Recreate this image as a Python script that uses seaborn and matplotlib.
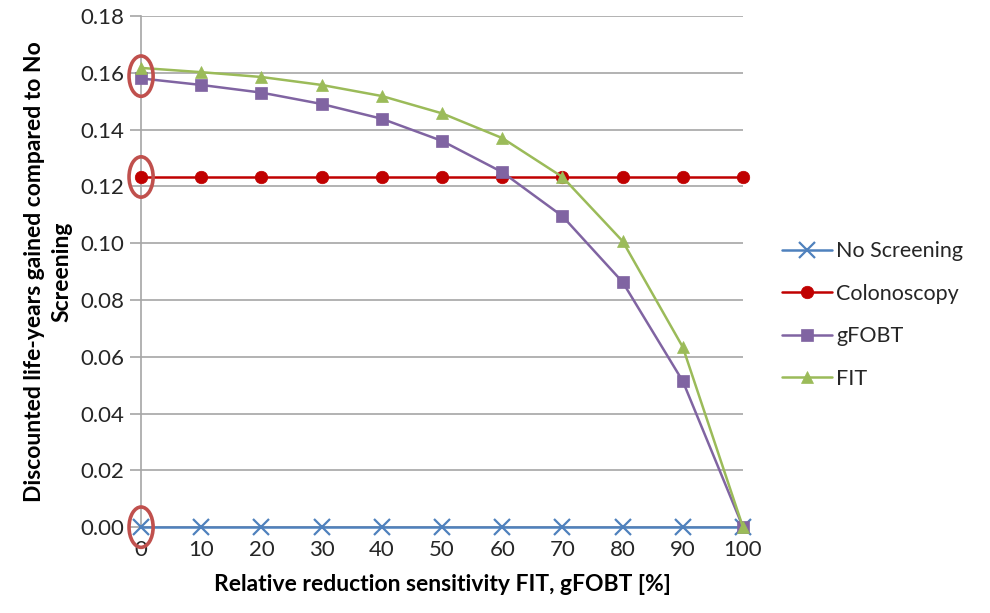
import matplotlib
matplotlib.use("Agg")
import matplotlib.pyplot as plt
from matplotlib.patches import Ellipse
import seaborn as sns
import pandas as pd

# Relative reduction in sensitivity (%)
reduction = [0, 10, 20, 30, 40, 50, 60, 70, 80, 90, 100]

# Discounted life-years gained vs. no screening
no_screening = [0.0] * 11
colonoscopy = [0.1233] * 11
gfobt = [0.158, 0.1557, 0.153, 0.149, 0.1438, 0.136, 0.125, 0.1095, 0.0863, 0.0514, 0.0]
fit = [0.1617, 0.1602, 0.1585, 0.1557, 0.1518, 0.1457, 0.137, 0.1233, 0.1007, 0.0634, 0.0]

series_names = ["No Screening", "Colonoscopy", "gFOBT", "FIT"]
series_values = [no_screening, colonoscopy, gfobt, fit]
colors = ["#4F81BD", "#C00000", "#8064A2", "#9BBB59"]
markers = ["x", "o", "s", "^"]
marker_sizes = [11, 9, 8, 9]

rows = []
for name, vals in zip(series_names, series_values):
    for x, v in zip(reduction, vals):
        rows.append({"reduction": x, "value": v, "series": name})
df = pd.DataFrame(rows)

sns.set_theme(style="white")
plt.rcParams["font.family"] = ["Lato", "DejaVu Sans"]

fig = plt.figure(figsize=(9.9, 6.13), dpi=100)
ax = fig.add_axes([0.1425, 0.14, 0.608, 0.834])

for name, col, mk, ms in zip(series_names, colors, markers, marker_sizes):
    sub = df[df["series"] == name]
    sns.lineplot(data=sub, x="reduction", y="value", ax=ax, color=col,
                 marker=mk, markersize=ms, linewidth=1.8, label=name,
                 markeredgecolor=col, markeredgewidth=1.6 if mk == "x" else 0.5,
                 clip_on=False, zorder=3)

ax.set_xlim(0, 100)
ax.set_ylim(0, 0.18)
ax.set_xticks(reduction)
ax.set_yticks([i * 0.02 for i in range(10)])
ax.set_yticklabels([f"{i * 0.02:.2f}" for i in range(10)])
ax.grid(axis="y", color="#A6A6A6", linewidth=1.2)
ax.grid(axis="x", visible=False)
for s in ["top", "right"]:
    ax.spines[s].set_visible(False)
ax.spines["left"].set_color("#A6A6A6")
ax.spines["left"].set_linewidth(1.2)
ax.spines["bottom"].set_color("#A6A6A6")
ax.spines["bottom"].set_linewidth(1.2)
ax.tick_params(axis="y", which="major", left=True, length=8, width=1.2,
               color="#A6A6A6", labelsize=16, labelcolor="#262626", pad=4)
ax.tick_params(axis="x", which="major", bottom=False, labelsize=16,
               labelcolor="#262626", pad=3)

ax.set_xlabel("Relative reduction sensitivity FIT, gFOBT [%]", fontsize=16.5,
              fontweight="bold", color="black", labelpad=10)
ax.set_ylabel("Discounted life-years gained compared to No\nScreening",
              fontsize=16.5, fontweight="bold", color="black", labelpad=6,
              linespacing=1.35)

# Highlight the starting points at 0 % reduction
for cy in [0.1588, 0.1233, 0.0]:
    ax.add_patch(Ellipse((0, cy), width=4.0, height=0.0142, fill=False,
                         edgecolor="#C0504D", linewidth=2.6, clip_on=False,
                         zorder=4))

leg = ax.legend(loc="center left", bbox_to_anchor=(1.065, 0.415), frameon=False,
                fontsize=15.5, labelspacing=1.05, handlelength=2.3,
                handletextpad=0.2, borderaxespad=0.0, borderpad=0.0)
for t in leg.get_texts():
    t.set_color("#262626")

fig.savefig("out.png", dpi=100)
